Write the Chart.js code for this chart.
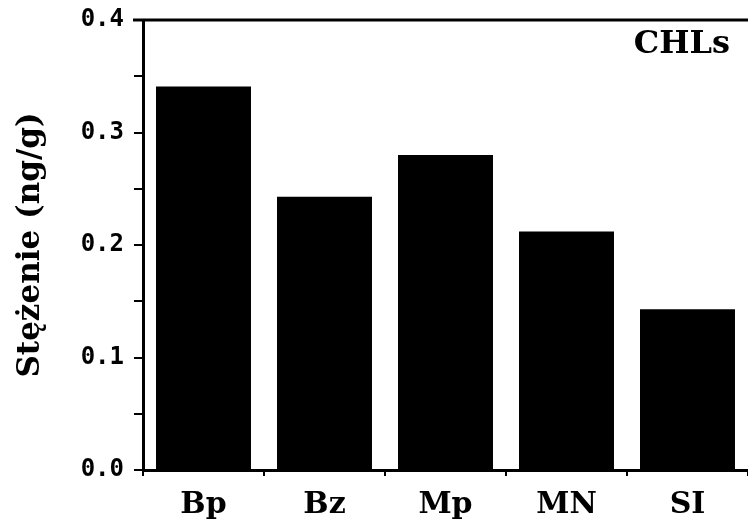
<!DOCTYPE html>
<html>
<head>
<meta charset="utf-8">
<script src="https://cdn.jsdelivr.net/npm/chart.js@4/dist/chart.umd.min.js"></script>
<style>
html,body{margin:0;padding:0;background:#fff;}
#wrap{width:748px;height:525px;}
</style>
</head>
<body>
<div id="wrap"><canvas id="barChart" width="748" height="525"></canvas></div>
<script>

const stations = ["Bp","Bz","Mp","MN","SI"];
const chlValues = [0.341,0.243,0.280,0.212,0.143];
const yTicks = [0.0,0.1,0.2,0.3,0.4];
const yTitle = "Stężenie (ng/g)";
const panelLabel = "CHLs";

const frame = {

    id:"frame",

    afterDraw(chart){

        const ctx = chart.ctx;
        const area = chart.chartArea;

        ctx.save();

        // top border, starts a bit left like the 0.4 tick
        ctx.strokeStyle = "#000";
        ctx.lineWidth = 3;
        ctx.beginPath();
        ctx.moveTo(area.left - 10, area.top);
        ctx.lineTo(area.right, area.top);
        ctx.stroke();

        ctx.fillStyle = "#000";
        ctx.font = "bold 32px 'DejaVu Serif'";
        ctx.textAlign = "right";
        ctx.textBaseline = "alphabetic";
        ctx.fillText(panelLabel, area.right - 18, area.top + 33);

        ctx.restore();
    }
};

new Chart(

document.getElementById("barChart"),

{
    type:"bar",

    data:{
        labels:stations,

        datasets:[{
            data:chlValues,
            backgroundColor:"#000",
            borderWidth:0,
            categoryPercentage:1,
            barPercentage:0.785
        }]
    },

    options:{
        responsive:false,
        animation:false,
        devicePixelRatio:1,

        layout:{
            padding:{top:20,right:0,bottom:0,left:0}
        },

        plugins:{
            legend:{display:false},
            tooltip:{enabled:false}
        },

        scales:{

            x:{
                afterFit(scale){
                    scale.height = 55;
                    scale.paddingLeft = 0;
                    scale.paddingRight = 0;
                },
                grid:{
                    offset:true,
                    drawOnChartArea:false,
                    drawTicks:true,
                    tickLength:6,
                    lineWidth:2,
                    color:"#000"
                },
                border:{
                    display:true,
                    color:"#000",
                    width:3
                },
                ticks:{
                    color:"#000",
                    padding:11,
                    font:{
                        family:"'DejaVu Serif'",
                        size:30,
                        weight:"bold"
                    }
                }
            },

            y:{
                min:0,
                max:0.4,
                afterFit(scale){
                    scale.width = 143;
                    scale.paddingTop = 0;
                    scale.paddingBottom = 0;
                },
                grid:{
                    drawOnChartArea:false,
                    drawTicks:true,
                    tickLength:9,
                    lineWidth:2,
                    color:"#000"
                },
                border:{
                    display:true,
                    color:"#000",
                    width:3
                },
                ticks:{
                    stepSize:0.05,
                    color:"#000",
                    padding:10,
                    font:{
                        family:"'DejaVu Sans Mono'",
                        size:24,
                        weight:"bold"
                    },
                    callback:(value)=>{
                        const hit = yTicks.find(t=>Math.abs(t - value) < 1e-6);
                        return hit === undefined ? "" : hit.toFixed(1);
                    }
                },
                title:{
                    display:true,
                    text:yTitle,
                    color:"#000",
                    padding:{top:12,bottom:0},
                    font:{
                        family:"'DejaVu Serif'",
                        size:31,
                        weight:"bold"
                    }
                }
            }
        }
    },

    plugins:[frame]
});
</script>
</body>
</html>
